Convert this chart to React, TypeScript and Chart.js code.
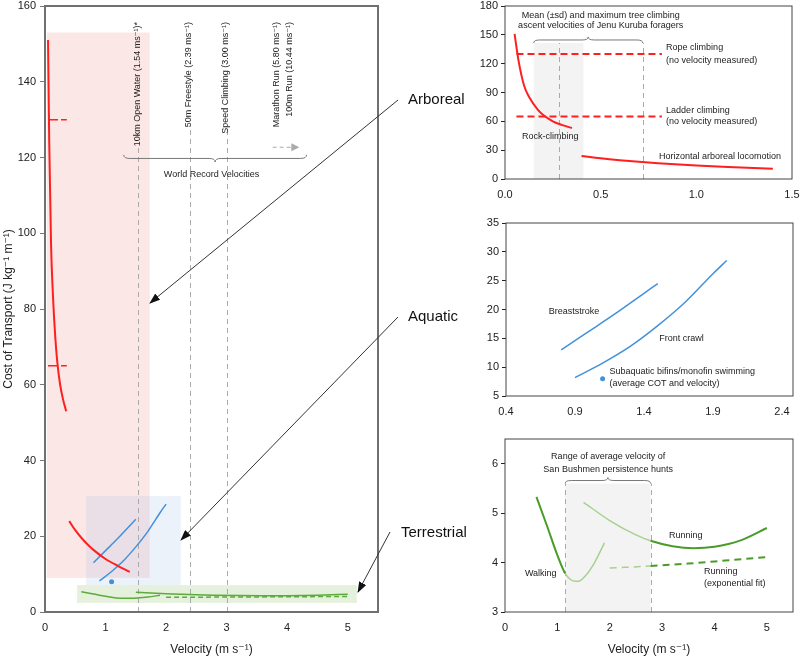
import React, { useEffect, useRef } from "react";
import { Chart, registerables } from "chart.js";
Chart.register(...registerables);

const FONT = "'Liberation Sans', 'DejaVu Sans', Arial, sans-serif";
const TXT = "#222";
const RED = "#ff1f1f";
const BLUE = "#4191db";
const GREEN = "#5dab3d";
const GREEN_DARK = "#4a9c2a";
const GREEN_LIGHT = "#a6d28f";

// ---------------- data ----------------
const rockClimbV = [0.05, 0.07, 0.1, 0.13, 0.17, 0.2, 0.25, 0.3, 0.35];
const rockClimbCOT = [151, 124, 97, 84, 72.5, 66.5, 60, 56, 53];
const horizArborealV = [0.4, 0.5, 0.6, 0.7, 0.8, 1.0, 1.2, 1.4];
const horizArborealCOT = [24, 21.6, 19.6, 17.9, 16.4, 14.0, 12.2, 10.6];
const ropeClimbCOT = [130, 130];
const ladderClimbCOT = [65, 65];
const climbDashVMain = [0.05, 0.36];
const climbDashVDetail = [0.06, 0.82];
const breastV = [0.8, 1.0, 1.2, 1.4, 1.5];
const breastCOT = [13.0, 16.2, 19.4, 22.8, 24.5];
const crawlV = [0.9, 1.1, 1.3, 1.5, 1.7, 1.9, 2.0];
const crawlCOT = [8.2, 10.7, 13.6, 17.2, 21.3, 26.2, 28.5];
const finV = [1.1];
const finCOT = [8.0];
const walkV = [0.6, 0.8, 1.0, 1.15, 1.3, 1.4, 1.55, 1.7, 1.9];
const walkCOT = [5.33, 4.75, 4.15, 3.78, 3.63, 3.62, 3.75, 3.98, 4.4];
const runV = [1.5, 2.0, 2.5, 2.78, 3.2, 3.6, 4.0, 4.5, 5.0];
const runCOT = [5.22, 4.85, 4.56, 4.44, 4.33, 4.29, 4.32, 4.45, 4.7];
const runExpV = [2.0, 2.78, 3.5, 4.2, 5.0];
const runExpCOT = [3.89, 3.93, 3.98, 4.04, 4.11];
const worldRecordV = [1.54, 2.39, 3.0];
const worldRecordLabels = [
  "10km Open Water (1.54 ms\u207B\u00B9)*",
  "50m Freestyle (2.39 ms\u207B\u00B9)",
  "Speed Climbing (3.00 ms\u207B\u00B9)",
];
const offChartRecordLabels = ["Marathon Run (5.80 ms\u207B\u00B9)", "100m Run (10.44 ms\u207B\u00B9)"];
const treeClimbSdV = [0.15, 0.41];
const treeClimbMeanV = 0.28;
const treeClimbMaxV = 0.72;
const huntV = [1.15, 2.78];
const arborealBox = [0.03, 1.73, 9, 153];
const aquaticBox = [0.68, 2.24, 7.1, 30.6];
const terrestrialBox = [0.53, 5.15, 2.4, 7.1];

const mainXTicks = [0, 1, 2, 3, 4, 5];
const mainYTicks = [0, 20, 40, 60, 80, 100, 120, 140, 160];
const arbXTicks = [0, 0.5, 1.0, 1.5];
const arbYTicks = [0, 30, 60, 90, 120, 150, 180];
const aquXTicks = [0.4, 0.9, 1.4, 1.9, 2.4];
const aquYTicks = [5, 10, 15, 20, 25, 30, 35];
const terXTicks = [0, 1, 2, 3, 4, 5];
const terYTicks = [3, 4, 5, 6];

// ---------------- helpers ----------------
const pts = (xs: number[], ys: number[]) => xs.map((x, i) => ({ x, y: ys[i] }));

function line(data: any, color: string, width: number, dash: number[] = []) {
  return {
    data,
    borderColor: color,
    backgroundColor: color,
    borderWidth: width,
    borderDash: dash,
    pointRadius: 0,
    fill: false,
    cubicInterpolationMode: "monotone",
  };
}
function dot(data: any, color: string) {
  return { data, borderColor: color, backgroundColor: color, showLine: false, pointRadius: 2.5, pointBorderWidth: 0 };
}

const tickFont = { family: FONT, size: 11 };
function xAxis(min: number, max: number, ticks: number[], height: number, fmt?: (v: number) => string, title?: string) {
  const t: any = { padding: 9, font: tickFont, color: TXT, maxRotation: 0, autoSkip: false };
  if (fmt) t.callback = (v: any) => fmt(Number(v));
  return {
    type: "linear",
    min,
    max,
    afterBuildTicks: (s: any) => {
      s.ticks = ticks.map((v) => ({ value: v }));
    },
    afterFit: (s: any) => {
      s.height = height;
    },
    grid: { display: false, drawTicks: false },
    border: { display: false },
    ticks: t,
    title: title
      ? { display: true, text: title, font: { family: FONT, size: 12 }, color: TXT, padding: { top: 0, bottom: 1 } }
      : { display: false },
  };
}
function yAxis(min: number, max: number, ticks: number[], width: number, tickColor: string, tickLen: number, pad: number, title?: string) {
  return {
    type: "linear",
    min,
    max,
    afterBuildTicks: (s: any) => {
      s.ticks = ticks.map((v) => ({ value: v }));
    },
    afterFit: (s: any) => {
      s.width = width;
    },
    grid: { display: true, drawOnChartArea: false, drawTicks: true, tickLength: tickLen, color: tickColor, lineWidth: 1 },
    border: { display: false },
    ticks: { padding: pad, font: tickFont, color: TXT, autoSkip: false },
    title: title
      ? { display: true, text: title, font: { family: FONT, size: 12 }, color: TXT, padding: { top: 1, bottom: 0 } }
      : { display: false },
  };
}

type DC = { ctx: CanvasRenderingContext2D; X: (v: number) => number; Y: (v: number) => number };

function decoPlugin(draw: (c: DC) => void, frameColor: string, frameWidth: number) {
  return {
    id: "deco",
    beforeDatasetsDraw(chart: any) {
      const ctx = chart.ctx as CanvasRenderingContext2D;
      const xs = chart.scales.x;
      const ys = chart.scales.y;
      ctx.save();
      draw({ ctx, X: (v) => xs.getPixelForValue(v), Y: (v) => ys.getPixelForValue(v) });
      ctx.restore();
    },
    afterDraw(chart: any) {
      const ctx = chart.ctx as CanvasRenderingContext2D;
      const a = chart.chartArea;
      ctx.save();
      ctx.strokeStyle = frameColor;
      ctx.lineWidth = frameWidth;
      ctx.strokeRect(a.left, a.top, a.right - a.left, a.bottom - a.top);
      ctx.restore();
    },
  };
}

function text(ctx: CanvasRenderingContext2D, s: string, x: number, y: number, align: CanvasTextAlign = "left", size = 9) {
  ctx.font = `${size}px ${FONT}`;
  ctx.fillStyle = TXT;
  ctx.textAlign = align;
  ctx.textBaseline = "middle";
  ctx.fillText(s, x, y);
}
function vdash(ctx: CanvasRenderingContext2D, x: number, y0: number, y1: number) {
  ctx.save();
  ctx.setLineDash([5, 4]);
  ctx.strokeStyle = "#aaa";
  ctx.lineWidth = 1;
  ctx.beginPath();
  ctx.moveTo(Math.round(x) + 0.5, y0);
  ctx.lineTo(Math.round(x) + 0.5, y1);
  ctx.stroke();
  ctx.restore();
}
function box(c: DC, b: number[], color: string) {
  const x0 = c.X(b[0]), x1 = c.X(b[1]), y0 = c.Y(b[3]), y1 = c.Y(b[2]);
  c.ctx.fillStyle = color;
  c.ctx.fillRect(x0, y0, x1 - x0, y1 - y0);
}
function brace(ctx: CanvasRenderingContext2D, x1: number, x2: number, yEnd: number, yTip: number) {
  const xm = (x1 + x2) / 2;
  const ym = (yEnd + yTip) / 2;
  const r = 6;
  ctx.save();
  ctx.strokeStyle = "#777";
  ctx.lineWidth = 1;
  ctx.beginPath();
  ctx.moveTo(x1, yEnd);
  ctx.quadraticCurveTo(x1, ym, x1 + r, ym);
  ctx.lineTo(xm - r, ym);
  ctx.quadraticCurveTo(xm, ym, xm, yTip);
  ctx.quadraticCurveTo(xm, ym, xm + r, ym);
  ctx.lineTo(x2 - r, ym);
  ctx.quadraticCurveTo(x2, ym, x2, yEnd);
  ctx.stroke();
  ctx.restore();
}

function baseOptions(x: any, y: any, padRight: number) {
  return {
    responsive: false,
    animation: false,
    devicePixelRatio: 1,
    layout: { padding: { top: 16, right: padRight, bottom: 0, left: 0 } },
    plugins: { legend: { display: false }, tooltip: { enabled: false } },
    scales: { x, y },
  };
}

// ---------------- chart configs ----------------
function mainConfig(): any {
  return {
    type: "line",
    data: {
      datasets: [
        line(pts(rockClimbV, rockClimbCOT), RED, 2),
        line(pts(horizArborealV, horizArborealCOT), RED, 2),
        line(pts(climbDashVMain, ropeClimbCOT), RED, 1.5, [10, 3]),
        line(pts(climbDashVMain, ladderClimbCOT), RED, 1.5, [10, 3]),
        line(pts(breastV, breastCOT), BLUE, 1.5),
        line(pts(crawlV, crawlCOT), BLUE, 1.5),
        dot(pts(finV, finCOT), BLUE),
        line(pts(walkV, walkCOT), GREEN, 1.5),
        line(pts(runV, runCOT), GREEN, 1.5),
        line(pts(runExpV, runExpCOT), GREEN, 1.5, [5, 3]),
      ],
    },
    options: baseOptions(
      xAxis(0, 5.5, mainXTicks, 46, undefined, "Velocity (m s\u207B\u00B9)"),
      yAxis(0, 160, mainYTicks, 45, "#777", 5, 4, "Cost of Transport (J kg\u207B\u00B9 m\u207B\u00B9)"),
      22
    ),
    plugins: [
      decoPlugin((c) => {
        const { ctx, X, Y } = c;
        box(c, arborealBox, "rgba(245,170,170,0.28)");
        box(c, aquaticBox, "rgba(170,195,230,0.22)");
        box(c, terrestrialBox, "rgba(150,200,120,0.25)");
        const lineTops = [122.8, 127.8, 127.8];
        worldRecordV.forEach((v, i) => vdash(ctx, X(v), Y(0), Y(lineTops[i])));
        const rot = (s: string, x: number) => {
          ctx.save();
          ctx.translate(x, Y(155.8));
          ctx.rotate(-Math.PI / 2);
          text(ctx, s, 0, 0, "right", 9);
          ctx.restore();
        };
        worldRecordV.forEach((v, i) => rot(worldRecordLabels[i], X(v) - 1));
        rot(offChartRecordLabels[0], X(3.83));
        rot(offChartRecordLabels[1], X(4.04));
        // dashed arrow pointing off-chart
        const ay = Y(122.7);
        const ax0 = X(3.76), ax1 = X(4.2);
        ctx.save();
        ctx.strokeStyle = "#aaa";
        ctx.fillStyle = "#aaa";
        ctx.lineWidth = 1.2;
        ctx.setLineDash([4, 3]);
        ctx.beginPath();
        ctx.moveTo(ax0, ay);
        ctx.lineTo(ax1 - 7, ay);
        ctx.stroke();
        ctx.setLineDash([]);
        ctx.beginPath();
        ctx.moveTo(ax1, ay);
        ctx.lineTo(ax1 - 8, ay - 4);
        ctx.lineTo(ax1 - 8, ay + 4);
        ctx.closePath();
        ctx.fill();
        ctx.restore();
        brace(ctx, X(1.3), X(4.32), Y(120.7), Y(118.8));
        text(ctx, "World Record Velocities", X(2.75), Y(115.5), "center", 9);
      }, "#707070", 2),
    ],
  };
}

function arborealConfig(): any {
  return {
    type: "line",
    data: {
      datasets: [
        line(pts(rockClimbV, rockClimbCOT), RED, 2),
        line(pts(horizArborealV, horizArborealCOT), RED, 2),
        line(pts(climbDashVDetail, ropeClimbCOT), RED, 2, [7, 4]),
        line(pts(climbDashVDetail, ladderClimbCOT), RED, 2, [7, 4]),
      ],
    },
    options: baseOptions(
      xAxis(0, 1.5, arbXTicks, 30, (v) => v.toFixed(1)),
      yAxis(0, 180, arbYTicks, 50, "#222", 4, 3),
      18
    ),
    plugins: [
      decoPlugin((c) => {
        const { ctx, X, Y } = c;
        ctx.fillStyle = "#f3f3f3";
        ctx.fillRect(X(treeClimbSdV[0]), Y(141.5), X(treeClimbSdV[1]) - X(treeClimbSdV[0]), Y(0) - Y(141.5));
        vdash(ctx, X(treeClimbMeanV), Y(0), Y(141.5));
        vdash(ctx, X(treeClimbMaxV), Y(0), Y(141.5));
        brace(ctx, X(treeClimbSdV[0]), X(treeClimbMaxV), Y(141.5), Y(147.8));
        text(ctx, "Mean (\u00B1sd) and maximum tree climbing", X(0.5), Y(169.6), "center");
        text(ctx, "ascent velocities of Jenu Kuruba foragers", X(0.5), Y(159.2), "center");
        text(ctx, "Rope climbing", X(0.842), Y(136.3));
        text(ctx, "(no velocity measured)", X(0.842), Y(122.8));
        text(ctx, "Ladder climbing", X(0.842), Y(70.8));
        text(ctx, "(no velocity measured)", X(0.842), Y(59.3));
        text(ctx, "Rock-climbing", X(0.089), Y(44.7));
        text(ctx, "Horizontal arboreal locomotion", X(0.805), Y(23.9));
      }, "#444", 1),
    ],
  };
}

function aquaticConfig(): any {
  return {
    type: "line",
    data: {
      datasets: [
        line(pts(breastV, breastCOT), BLUE, 1.5),
        line(pts(crawlV, crawlCOT), BLUE, 1.5),
        dot(pts(finV, finCOT), BLUE),
      ],
    },
    options: baseOptions(
      xAxis(0.4, 2.48, aquXTicks, 30, (v) => v.toFixed(1)),
      yAxis(5, 35, aquYTicks, 50, "#222", 4, 3),
      17
    ),
    plugins: [
      decoPlugin((c) => {
        const { ctx, X, Y } = c;
        text(ctx, "Breaststroke", X(0.71), Y(19.7));
        text(ctx, "Front crawl", X(1.51), Y(15.05));
        text(ctx, "Subaquatic bifins/monofin swimming", X(1.15), Y(9.16));
        text(ctx, "(average COT and velocity)", X(1.15), Y(7.25));
      }, "#444", 1),
    ],
  };
}

function terrestrialConfig(): any {
  const inHunt = (s: any) => s.p0.parsed.x >= huntV[0] - 1e-9 && s.p1.parsed.x <= huntV[1] + 1e-9;
  const seg = {
    borderColor: (s: any) => (inHunt(s) ? GREEN_LIGHT : GREEN_DARK),
    borderWidth: (s: any) => (inHunt(s) ? 1.5 : 2),
  };
  return {
    type: "line",
    data: {
      datasets: [
        { ...line(pts(walkV, walkCOT), GREEN_DARK, 2), segment: seg },
        { ...line(pts(runV, runCOT), GREEN_DARK, 2), segment: seg },
        { ...line(pts(runExpV, runExpCOT), GREEN_DARK, 2, [7, 5]), segment: seg },
      ],
    },
    options: baseOptions(
      xAxis(0, 5.5, terXTicks, 46, undefined, "Velocity (m s\u207B\u00B9)"),
      yAxis(3, 6.5, terYTicks, 50, "#222", 4, 3),
      17
    ),
    plugins: [
      decoPlugin((c) => {
        const { ctx, X, Y } = c;
        ctx.fillStyle = "#f3f3f3";
        ctx.fillRect(X(huntV[0]), Y(5.6), X(huntV[1]) - X(huntV[0]), Y(3) - Y(5.6));
        vdash(ctx, X(huntV[0]), Y(3), Y(5.6));
        vdash(ctx, X(huntV[1]), Y(3), Y(5.6));
        brace(ctx, X(huntV[0]), X(huntV[1]), Y(5.6), Y(5.72));
        text(ctx, "Range of average velocity of", X(1.97), Y(6.14), "center");
        text(ctx, "San Bushmen persistence hunts", X(1.97), Y(5.89), "center");
        text(ctx, "Walking", X(0.38), Y(3.77));
        text(ctx, "Running", X(3.13), Y(4.54));
        text(ctx, "Running", X(3.8), Y(3.81));
        text(ctx, "(exponential fit)", X(3.8), Y(3.57));
      }, "#444", 1),
    ],
  };
}

// ---------------- component ----------------
const labelStyle = (left: number, top: number): React.CSSProperties => ({
  position: "absolute",
  left,
  top,
  fontFamily: FONT,
  fontSize: 15,
  lineHeight: "18px",
  color: "#111",
  whiteSpace: "nowrap",
});

export default function App() {
  const r1 = useRef<HTMLCanvasElement>(null);
  const r2 = useRef<HTMLCanvasElement>(null);
  const r3 = useRef<HTMLCanvasElement>(null);
  const r4 = useRef<HTMLCanvasElement>(null);

  useEffect(() => {
    const charts = [
      new Chart(r1.current as HTMLCanvasElement, mainConfig()),
      new Chart(r2.current as HTMLCanvasElement, arborealConfig()),
      new Chart(r3.current as HTMLCanvasElement, aquaticConfig()),
      new Chart(r4.current as HTMLCanvasElement, terrestrialConfig()),
    ];
    return () => charts.forEach((c) => c.destroy());
  }, []);

  return (
    <div style={{ position: "absolute", left: 0, top: 0, width: 800, height: 658, overflow: "hidden", background: "#fff" }}>
      <canvas ref={r1} width={400} height={668} style={{ position: "absolute", left: 0, top: -10 }} />
      <canvas ref={r2} width={355} height={219} style={{ position: "absolute", left: 455, top: -10 }} />
      <canvas ref={r3} width={354} height={219} style={{ position: "absolute", left: 456, top: 207 }} />
      <canvas ref={r4} width={355} height={235} style={{ position: "absolute", left: 455, top: 423 }} />
      <div style={labelStyle(408, 90)}>Arboreal</div>
      <div style={labelStyle(408, 307)}>Aquatic</div>
      <div style={labelStyle(401, 523)}>Terrestrial</div>
      <svg width={800} height={658} style={{ position: "absolute", left: 0, top: 0, pointerEvents: "none" }}>
        <defs>
          <marker id="ah" markerWidth="11" markerHeight="8" refX="10" refY="4" orient="auto" markerUnits="userSpaceOnUse">
            <path d="M0,0 L11,4 L0,8 z" fill="#111" />
          </marker>
        </defs>
        <line x1={398} y1={100} x2={150} y2={303} stroke="#333" strokeWidth={1} markerEnd="url(#ah)" />
        <line x1={398} y1={317} x2={181} y2={540} stroke="#333" strokeWidth={1} markerEnd="url(#ah)" />
        <line x1={390} y1={532} x2={358} y2={592} stroke="#333" strokeWidth={1} markerEnd="url(#ah)" />
      </svg>
    </div>
  );
}
